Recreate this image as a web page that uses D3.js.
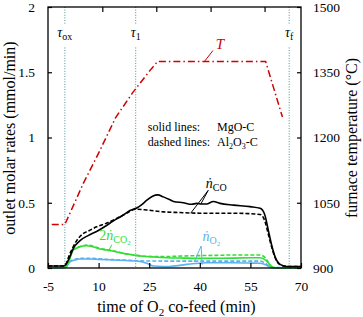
<!DOCTYPE html>
<meta charset="utf-8">
<script src="https://d3js.org/d3.v7.min.js"></script>
<style>
  body { margin: 0; background: #fff; }
  text { font-family: "Liberation Serif", "Times New Roman", serif; }
</style>
<svg id="chart" width="363" height="317"></svg>
<script>
// ---- data ----
var xTicks = [-5, 10, 25, 40, 55, 70];
var topTicks = [11.1, 27.1, 43.2, 59.2];
var yTicks = [0, 0.5, 1, 1.5, 2];
var tempTicks = [900, 1050, 1200, 1350, 1500];
var markers = [{t: 0, name: "τ", sub: "ox"}, {t: 21, name: "τ", sub: "1"}, {t: 66.5, name: "τ", sub: "f"}];

var coTime = [-5, -1, 0, 1.5, 2.5, 4.5, 7, 9.4, 12, 14.3, 17, 19.3, 21.3, 23, 24.3, 26, 27.5, 29.2, 31, 32.2, 35.1, 37.6, 39.1, 40.5, 42, 44, 46, 50, 54.9, 57.9, 59.3, 60.3, 61.3, 62.3, 63.8, 65.8, 70];
var coMgO = [0.015, 0.015, 0.02, 0.087, 0.15, 0.21, 0.25, 0.28, 0.32, 0.36, 0.40, 0.44, 0.46, 0.49, 0.52, 0.55, 0.56, 0.545, 0.525, 0.51, 0.50, 0.488, 0.495, 0.49, 0.49, 0.51, 0.495, 0.482, 0.47, 0.457, 0.405, 0.29, 0.176, 0.087, 0.028, 0.012, 0.012];

var coDashTime = [-5, -1, 0, 1.5, 3.5, 5.5, 7.5, 9.4, 12, 15, 18, 21, 24.3, 29.2, 34.1, 40, 50, 57.9, 59.3, 60.3, 61.3, 62.3, 63.8, 65.8, 70];
var coAl = [0.015, 0.015, 0.02, 0.11, 0.21, 0.265, 0.29, 0.316, 0.34, 0.375, 0.415, 0.45, 0.444, 0.43, 0.425, 0.42, 0.42, 0.41, 0.36, 0.26, 0.16, 0.08, 0.025, 0.012, 0.012];

var co2Time = [-5, 0, 1, 2.5, 4.5, 6.5, 8, 10.4, 12.4, 15, 17.3, 20.3, 23, 26, 30.2, 35, 40, 45, 50, 55, 57.9, 59.5, 60.3, 61.3, 62.5, 70];
var co2MgO = [0.004, 0.004, 0.04, 0.138, 0.162, 0.17, 0.165, 0.145, 0.138, 0.125, 0.112, 0.1, 0.09, 0.085, 0.079, 0.076, 0.074, 0.075, 0.076, 0.078, 0.079, 0.06, 0.04, 0.01, 0.002, 0.002];
var co2Al = [0.004, 0.004, 0.04, 0.14, 0.165, 0.175, 0.17, 0.15, 0.14, 0.128, 0.114, 0.1, 0.092, 0.088, 0.088, 0.092, 0.095, 0.097, 0.1, 0.1, 0.1, 0.075, 0.045, 0.012, 0.002, 0.002];

var o2Time = [-5, 0, 1.5, 3, 4.5, 7.5, 10, 14.4, 18, 21.3, 24.3, 26.2, 29.2, 31, 34.1, 36.1, 39, 42, 46, 50, 55, 57.9, 59.5, 60.5, 61.5, 70];
var o2MgO = [0.002, 0.002, 0.048, 0.062, 0.069, 0.069, 0.066, 0.061, 0.057, 0.054, 0.036, 0.015, 0.012, 0.012, 0.02, 0.028, 0.035, 0.04, 0.04, 0.04, 0.038, 0.036, 0.025, 0.01, 0.002, 0.002];
var o2Al = [0.002, 0.002, 0.05, 0.066, 0.074, 0.074, 0.07, 0.064, 0.06, 0.056, 0.054, 0.054, 0.053, 0.053, 0.053, 0.053, 0.053, 0.053, 0.053, 0.053, 0.053, 0.053, 0.035, 0.015, 0.003, 0.003];

var tempTime = [-3.9, 0, 5.5, 10, 15, 20, 25, 27.5, 59.5, 64.5];
var tempVals = [1000, 1000, 1095, 1164, 1245, 1302, 1352, 1375, 1375, 1247];

// ---- layout ----
var svg = d3.select("#chart");
var pl = 48, pr = 301, pt = 7, pb = 268;

var x = d3.scaleLinear().domain([-5, 70]).range([pl, pr]);
var y = d3.scaleLinear().domain([0, 2]).range([pb, pt]);
var yT = d3.scaleLinear().domain([900, 1500]).range([pb, pt]);

function zip(ts, vs) { return ts.map(function(t, i) { return [t, vs[i]]; }); }

var line = d3.line()
    .x(function(d) { return x(d[0]); })
    .y(function(d) { return y(d[1]); })
    .curve(d3.curveMonotoneX);

var lineT = d3.line()
    .x(function(d) { return x(d[0]); })
    .y(function(d) { return yT(d[1]); });

// dotted markers
var mk = svg.append("g");
markers.forEach(function(m) {
  mk.append("line").attr("x1", x(m.t)).attr("x2", x(m.t)).attr("y1", y(2)).attr("y2", y(1.87));
  mk.append("line").attr("x1", x(m.t)).attr("x2", x(m.t)).attr("y1", y(1.69)).attr("y2", y(0));
  var tx = svg.append("text").attr("x", x(m.t)).attr("y", 37)
      .attr("text-anchor", "middle").style("font-size", "14px");
  tx.append("tspan").style("font-style", "italic").text(m.name);
  tx.append("tspan").attr("dy", 3).style("font-size", "10px").text(m.sub);
});
mk.selectAll("line").attr("stroke", "#4d8c96").attr("stroke-width", 1).attr("stroke-dasharray", "1,1.6");

// series
var series = [
  {d: zip(o2Time, o2Al), c: "#5ab2ef", dash: "4,2"},
  {d: zip(o2Time, o2MgO), c: "#5ab2ef", dash: null},
  {d: zip(co2Time, co2Al), c: "#33dd33", dash: "4,2"},
  {d: zip(co2Time, co2MgO), c: "#33dd33", dash: null},
  {d: zip(coDashTime, coAl), c: "#000", dash: "4,2"},
  {d: zip(coTime, coMgO), c: "#000", dash: null}
];
svg.append("g").selectAll("path").data(series).enter().append("path")
    .attr("d", function(s) { return line(s.d); })
    .attr("fill", "none")
    .attr("stroke", function(s) { return s.c; })
    .attr("stroke-width", 1.6)
    .attr("stroke-dasharray", function(s) { return s.dash; });

svg.append("path")
    .attr("d", lineT(zip(tempTime, tempVals)))
    .attr("fill", "none").attr("stroke", "#d00000").attr("stroke-width", 1.5)
    .attr("stroke-dasharray", "7,3,1.5,3");

// axes
function axisStyle(g) {
  g.select(".domain").remove();
  g.selectAll("line").attr("stroke", "#000").attr("stroke-width", 1.2);
  g.selectAll("text").style("font-size", "13.5px").attr("fill", "#000");
}
var plain = function(d) { return String(d); };
svg.append("g").attr("transform", "translate(0," + pb + ")")
    .call(d3.axisBottom(x).tickValues(xTicks).tickSize(-5).tickPadding(13).tickFormat(plain))
    .call(axisStyle);
svg.append("g").attr("transform", "translate(0," + pt + ")")
    .call(d3.axisTop(x).tickValues(topTicks).tickSize(-5).tickFormat(""))
    .call(axisStyle);
svg.append("g").attr("transform", "translate(" + pl + ",0)")
    .call(d3.axisLeft(y).tickValues(yTicks).tickSize(-4).tickPadding(13).tickFormat(plain))
    .call(axisStyle);
svg.append("g").attr("transform", "translate(" + pr + ",0)")
    .call(d3.axisRight(yT).tickValues(tempTicks).tickSize(-4).tickPadding(12).tickFormat(plain))
    .call(axisStyle);
svg.append("rect").attr("x", pl).attr("y", pt).attr("width", pr - pl).attr("height", pb - pt)
    .attr("fill", "none").attr("stroke", "#000").attr("stroke-width", 1.3);

// axis titles
var xt = svg.append("text").attr("x", (pl + pr) / 2 + 2).attr("y", 312)
    .attr("text-anchor", "middle").style("font-size", "16px");
xt.append("tspan").text("time of O");
xt.append("tspan").attr("dy", 4).style("font-size", "11px").text("2");
xt.append("tspan").attr("dy", -4).text(" co-feed (min)");

svg.append("text").attr("transform", "translate(15,138) rotate(-90)")
    .attr("text-anchor", "middle").style("font-size", "16px")
    .text("outlet molar rates (mmol/min)");
svg.append("text").attr("transform", "translate(357,138) rotate(-90)")
    .attr("text-anchor", "middle").style("font-size", "16px")
    .text("furnace temperature (°C)");

// annotations
var note = svg.append("g").style("font-size", "12px");
note.append("text").attr("x", x(24.6)).attr("y", y(1.05)).text("solid lines:");
note.append("text").attr("x", x(45.1)).attr("y", y(1.05)).text("MgO-C");
note.append("text").attr("x", x(24.6)).attr("y", y(0.934)).text("dashed lines:");
var al = note.append("text").attr("x", x(45.1)).attr("y", y(0.934));
al.append("tspan").text("Al");
al.append("tspan").attr("dy", 3).style("font-size", "8px").text("2");
al.append("tspan").attr("dy", -3).text("O");
al.append("tspan").attr("dy", 3).style("font-size", "8px").text("3");
al.append("tspan").attr("dy", -3).text("-C");

function label(t, v, color, pre, sub, sub2) {
  var tx = svg.append("text").attr("x", x(t)).attr("y", y(v)).attr("fill", color).style("font-size", "14px");
  if (pre) tx.append("tspan").text(pre);
  tx.append("tspan").style("font-style", "italic").text("ṅ");
  tx.append("tspan").attr("dy", 3).style("font-size", "10px").text(sub);
  if (sub2) tx.append("tspan").attr("dy", 2).style("font-size", "7px").text(sub2);
}
function leader(t1, v1, t2, v2, color, sc) {
  sc = sc || y;
  svg.append("line").attr("x1", x(t1)).attr("y1", sc(v1)).attr("x2", x(t2)).attr("y2", sc(v2))
      .attr("stroke", color).attr("stroke-width", 1);
}

label(41.8, 0.61, "#000", null, "CO");
leader(42.5, 0.595, 37.3, 0.42, "#000");
leader(42.5, 0.595, 40.3, 0.49, "#000");

label(10.2, 0.215, "#33dd33", "2", "CO", "2");
leader(13.9, 0.178, 12.9, 0.128, "#33dd33");

label(40.8, 0.205, "#5ab2ef", null, "O", "2");
leader(40.4, 0.168, 38.3, 0.046, "#5ab2ef");
leader(40.4, 0.168, 40.7, 0.025, "#5ab2ef");

svg.append("text").attr("x", x(44.7)).attr("y", yT(1404)).attr("fill", "#d00000")
    .style("font-size", "15px").style("font-style", "italic").text("T");
leader(41.5, 1376, 43.9, 1400, "#d00000", yT);
</script>
